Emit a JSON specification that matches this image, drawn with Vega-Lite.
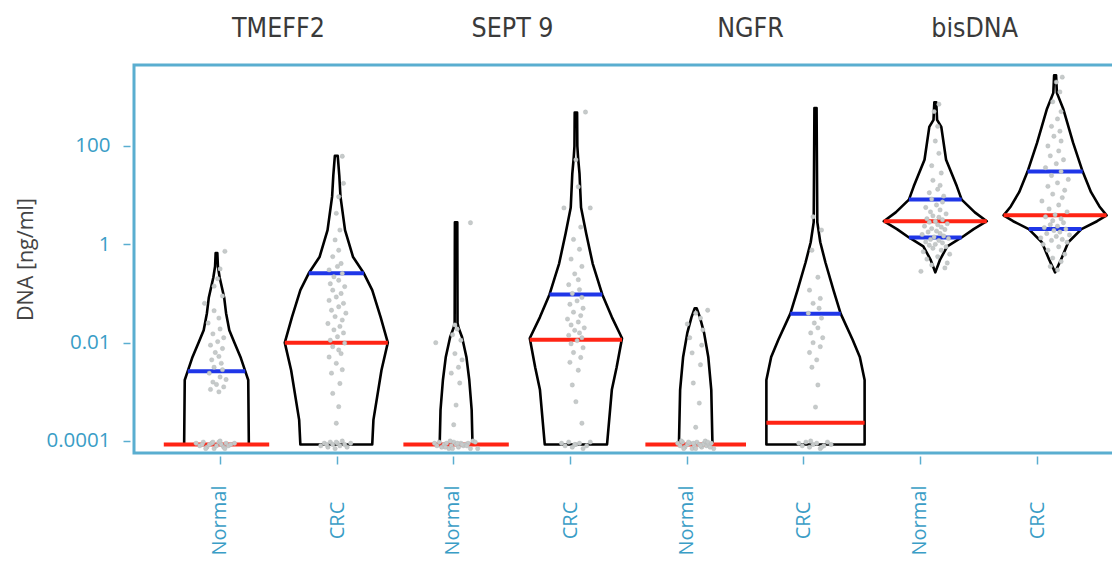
{
  "$schema": "https://vega.github.io/schema/vega-lite/v6.json",
  "width": 981,
  "height": 388,
  "autosize": "none",
  "padding": {"left": 134, "top": 65, "right": -3, "bottom": 109},
  "background": "white",
  "config": {
    "view": {"stroke": "#5aaed0", "strokeWidth": 3},
    "axis": {"grid": false}
  },
  "datasets": {
    "violin": [
      {"g":1,"v":8.5e-5,"w":0.27},{"g":1,"v":0.00174,"w":0.265},{"g":1,"v":0.00263,"w":0.24},{"g":1,"v":0.00513,"w":0.2},{"g":1,"v":0.01,"w":0.15},{"g":1,"v":0.0178,"w":0.107},{"g":1,"v":0.0398,"w":0.08},{"g":1,"v":0.0832,"w":0.064},{"g":1,"v":0.214,"w":0.026},{"g":1,"v":0.355,"w":0.012},{"g":1,"v":0.661,"w":0.007},
      {"g":2,"v":8.5e-5,"w":0.3},{"g":2,"v":0.000269,"w":0.31},{"g":2,"v":0.00275,"w":0.377},{"g":2,"v":0.01,"w":0.43},{"g":2,"v":0.0331,"w":0.37},{"g":2,"v":0.117,"w":0.3},{"g":2,"v":0.257,"w":0.23},{"g":2,"v":0.55,"w":0.14},{"g":2,"v":1.95,"w":0.073},{"g":2,"v":9.33,"w":0.035},{"g":2,"v":25.1,"w":0.025},{"g":2,"v":63,"w":0.012},
      {"g":3,"v":8.5e-5,"w":0.137},{"g":3,"v":0.000427,"w":0.13},{"g":3,"v":0.00174,"w":0.11},{"g":3,"v":0.00513,"w":0.086},{"g":3,"v":0.0129,"w":0.05},{"g":3,"v":0.0204,"w":0.02},{"g":3,"v":0.0251,"w":0.012},{"g":3,"v":2.82,"w":0.01},
      {"g":4,"v":8.5e-5,"w":0.26},{"g":4,"v":0.0011,"w":0.3},{"g":4,"v":0.00316,"w":0.34},{"g":4,"v":0.0123,"w":0.385},{"g":4,"v":0.0331,"w":0.3},{"g":4,"v":0.0955,"w":0.22},{"g":4,"v":0.407,"w":0.14},{"g":4,"v":1.66,"w":0.086},{"g":4,"v":5.62,"w":0.043},{"g":4,"v":27.5,"w":0.03},{"g":4,"v":58.9,"w":0.018},{"g":4,"v":100,"w":0.012},{"g":4,"v":479,"w":0.01},
      {"g":5,"v":8.5e-5,"w":0.14},{"g":5,"v":0.0011,"w":0.13},{"g":5,"v":0.00513,"w":0.105},{"g":5,"v":0.0158,"w":0.07},{"g":5,"v":0.0331,"w":0.035},{"g":5,"v":0.0501,"w":0.008},
      {"g":6,"v":8.5e-5,"w":0.41},{"g":6,"v":0.00174,"w":0.41},{"g":6,"v":0.00513,"w":0.37},{"g":6,"v":0.0115,"w":0.31},{"g":6,"v":0.0389,"w":0.21},{"g":6,"v":0.117,"w":0.15},{"g":6,"v":0.427,"w":0.083},{"g":6,"v":1.1,"w":0.04},{"g":6,"v":2.82,"w":0.015},{"g":6,"v":589,"w":0.009},
      {"g":7,"v":0.269,"w":0.0},{"g":7,"v":0.49,"w":0.04},{"g":7,"v":0.912,"w":0.1},{"g":7,"v":1.38,"w":0.22},{"g":7,"v":2.04,"w":0.32},{"g":7,"v":2.95,"w":0.43},{"g":7,"v":4.47,"w":0.33},{"g":7,"v":8.13,"w":0.22},{"g":7,"v":15.1,"w":0.18},{"g":7,"v":52.5,"w":0.09},{"g":7,"v":245,"w":0.05},{"g":7,"v":339,"w":0.015},{"g":7,"v":776,"w":0.008},
      {"g":8,"v":0.269,"w":0.0},{"g":8,"v":0.49,"w":0.05},{"g":8,"v":1.1,"w":0.11},{"g":8,"v":2.04,"w":0.22},{"g":8,"v":2.95,"w":0.35},{"g":8,"v":3.89,"w":0.43},{"g":8,"v":5.89,"w":0.37},{"g":8,"v":11.5,"w":0.3},{"g":8,"v":30.2,"w":0.23},{"g":8,"v":117,"w":0.15},{"g":8,"v":550,"w":0.07},{"g":8,"v":1202,"w":0.015},{"g":8,"v":2754,"w":0.008}
    ],
    "lines": [
      {"g":1,"v":8.5e-5,"w":0.44,"k":"med"},{"g":1,"v":0.00263,"w":0.24,"k":"q"},
      {"g":2,"v":0.01,"w":0.43,"k":"med"},{"g":2,"v":0.257,"w":0.23,"k":"q"},
      {"g":3,"v":8.5e-5,"w":0.44,"k":"med"},
      {"g":4,"v":0.0115,"w":0.385,"k":"med"},{"g":4,"v":0.0955,"w":0.22,"k":"q"},
      {"g":5,"v":8.5e-5,"w":0.42,"k":"med"},
      {"g":6,"v":0.000234,"w":0.41,"k":"med"},{"g":6,"v":0.0389,"w":0.21,"k":"q"},
      {"g":7,"v":2.95,"w":0.43,"k":"med"},{"g":7,"v":8.13,"w":0.22,"k":"q"},{"g":7,"v":1.38,"w":0.22,"k":"q"},
      {"g":8,"v":3.89,"w":0.43,"k":"med"},{"g":8,"v":30.2,"w":0.23,"k":"q"},{"g":8,"v":2.04,"w":0.22,"k":"q"}
    ],
    "points": [
      {"g":1,"v":9e-5,"j":-0.17},{"g":1,"v":8e-5,"j":-0.14},{"g":1,"v":9.5e-5,"j":-0.11},{"g":1,"v":7.5e-5,"j":-0.08},{"g":1,"v":8.5e-5,"j":-0.06},{"g":1,"v":9e-5,"j":-0.04},{"g":1,"v":7e-5,"j":-0.02},{"g":1,"v":8e-5,"j":0},{"g":1,"v":9.5e-5,"j":0.02},{"g":1,"v":8.5e-5,"j":0.04},{"g":1,"v":7.5e-5,"j":0.06},{"g":1,"v":9e-5,"j":0.08},{"g":1,"v":8e-5,"j":0.1},{"g":1,"v":8.5e-5,"j":0.12},{"g":1,"v":9e-5,"j":0.15},{"g":1,"v":7e-5,"j":-0.09},{"g":1,"v":1e-4,"j":0.03},{"g":1,"v":9.5e-5,"j":-0.03},{"g":1,"v":7e-5,"j":0.07},{"g":1,"v":8.5e-5,"j":-0.12},
      {"g":1,"v":0.001,"j":0.02},{"g":1,"v":0.00112,"j":-0.05},{"g":1,"v":0.00126,"j":0.06},{"g":1,"v":0.00141,"j":0.0},{"g":1,"v":0.00158,"j":-0.03},{"g":1,"v":0.00178,"j":0.08},{"g":1,"v":0.002,"j":0.03},{"g":1,"v":0.0024,"j":-0.06},{"g":1,"v":0.00282,"j":0.05},{"g":1,"v":0.00316,"j":-0.02},{"g":1,"v":0.0038,"j":0.04},{"g":1,"v":0.00447,"j":-0.04},{"g":1,"v":0.00525,"j":0.02},{"g":1,"v":0.0063,"j":-0.01},{"g":1,"v":0.0076,"j":0.05},{"g":1,"v":0.0089,"j":-0.05},{"g":1,"v":0.0105,"j":0.01},{"g":1,"v":0.0126,"j":0.06},{"g":1,"v":0.0151,"j":-0.03},{"g":1,"v":0.019,"j":0.03},{"g":1,"v":0.0251,"j":-0.07},{"g":1,"v":0.0316,"j":0.02},{"g":1,"v":0.0447,"j":-0.02},{"g":1,"v":0.063,"j":-0.1},{"g":1,"v":0.089,"j":0.05},{"g":1,"v":0.141,"j":-0.02},{"g":1,"v":0.2,"j":0.01},{"g":1,"v":0.316,"j":0.03},{"g":1,"v":0.72,"j":0.07},
      {"g":2,"v":8e-5,"j":-0.13},{"g":2,"v":9e-5,"j":-0.1},{"g":2,"v":7.5e-5,"j":-0.07},{"g":2,"v":9.5e-5,"j":-0.05},{"g":2,"v":8.5e-5,"j":-0.03},{"g":2,"v":7e-5,"j":-0.01},{"g":2,"v":9e-5,"j":0.01},{"g":2,"v":8e-5,"j":0.03},{"g":2,"v":1e-4,"j":0.05},{"g":2,"v":8.5e-5,"j":0.07},{"g":2,"v":7.5e-5,"j":0.09},{"g":2,"v":9e-5,"j":0.12},{"g":2,"v":8.5e-5,"j":-0.08},{"g":2,"v":9.5e-5,"j":0.0},
      {"g":2,"v":0.00023,"j":0.0},{"g":2,"v":0.0005,"j":0.02},{"g":2,"v":0.00093,"j":-0.03},{"g":2,"v":0.00148,"j":0.03},{"g":2,"v":0.0024,"j":-0.04},{"g":2,"v":0.00282,"j":0.05},{"g":2,"v":0.0038,"j":0.0},{"g":2,"v":0.0051,"j":-0.06},{"g":2,"v":0.006,"j":0.04},{"g":2,"v":0.0071,"j":0.02},{"g":2,"v":0.0083,"j":-0.03},{"g":2,"v":0.0098,"j":0.07},{"g":2,"v":0.0112,"j":-0.05},{"g":2,"v":0.0132,"j":0.01},{"g":2,"v":0.0158,"j":0.06},{"g":2,"v":0.0182,"j":-0.02},{"g":2,"v":0.0214,"j":0.03},{"g":2,"v":0.0245,"j":-0.07},{"g":2,"v":0.0288,"j":0.05},{"g":2,"v":0.0339,"j":-0.01},{"g":2,"v":0.0398,"j":0.08},{"g":2,"v":0.0457,"j":-0.04},{"g":2,"v":0.0537,"j":0.02},{"g":2,"v":0.063,"j":0.06},{"g":2,"v":0.0724,"j":-0.06},{"g":2,"v":0.085,"j":0.0},{"g":2,"v":0.1,"j":0.04},{"g":2,"v":0.117,"j":-0.03},{"g":2,"v":0.138,"j":0.07},{"g":2,"v":0.158,"j":-0.05},{"g":2,"v":0.186,"j":0.02},{"g":2,"v":0.219,"j":-0.02},{"g":2,"v":0.257,"j":0.05},{"g":2,"v":0.302,"j":-0.06},{"g":2,"v":0.355,"j":0.01},{"g":2,"v":0.407,"j":0.04},{"g":2,"v":0.562,"j":-0.03},{"g":2,"v":0.759,"j":0.02},{"g":2,"v":1.23,"j":-0.01},{"g":2,"v":1.95,"j":0.03},{"g":2,"v":4.27,"j":0.0},{"g":2,"v":9.3,"j":0.02},{"g":2,"v":17.4,"j":0.06},{"g":2,"v":61.7,"j":0.05},
      {"g":3,"v":9e-5,"j":-0.18},{"g":3,"v":8e-5,"j":-0.16},{"g":3,"v":9.5e-5,"j":-0.14},{"g":3,"v":7.5e-5,"j":-0.12},{"g":3,"v":8.5e-5,"j":-0.1},{"g":3,"v":9e-5,"j":-0.08},{"g":3,"v":7e-5,"j":-0.06},{"g":3,"v":8e-5,"j":-0.04},{"g":3,"v":9.5e-5,"j":-0.02},{"g":3,"v":8.5e-5,"j":0.0},{"g":3,"v":7.5e-5,"j":0.02},{"g":3,"v":9e-5,"j":0.04},{"g":3,"v":8e-5,"j":0.06},{"g":3,"v":8.5e-5,"j":0.08},{"g":3,"v":9e-5,"j":0.1},{"g":3,"v":7e-5,"j":0.12},{"g":3,"v":1e-4,"j":0.14},{"g":3,"v":9.5e-5,"j":0.16},{"g":3,"v":7e-5,"j":-0.03},{"g":3,"v":8.5e-5,"j":0.05},{"g":3,"v":7.5e-5,"j":-0.09},{"g":3,"v":9e-5,"j":0.01},{"g":3,"v":8e-5,"j":0.09},{"g":3,"v":1e-4,"j":-0.05},{"g":3,"v":7e-5,"j":0.18},
      {"g":3,"v":0.000214,"j":-0.02},{"g":3,"v":0.000537,"j":0.0},{"g":3,"v":0.00151,"j":0.03},{"g":3,"v":0.0024,"j":-0.04},{"g":3,"v":0.00316,"j":0.02},{"g":3,"v":0.00447,"j":0.05},{"g":3,"v":0.006,"j":-0.01},{"g":3,"v":0.01,"j":-0.17},{"g":3,"v":0.0112,"j":0.04},{"g":3,"v":0.0145,"j":-0.03},{"g":3,"v":0.019,"j":0.01},{"g":3,"v":0.0229,"j":-0.01},{"g":3,"v":2.75,"j":0.12},
      {"g":4,"v":9e-5,"j":-0.12},{"g":4,"v":8e-5,"j":-0.09},{"g":4,"v":9.5e-5,"j":-0.06},{"g":4,"v":7.5e-5,"j":-0.03},{"g":4,"v":8.5e-5,"j":0.0},{"g":4,"v":9e-5,"j":0.03},{"g":4,"v":7e-5,"j":0.06},{"g":4,"v":8e-5,"j":0.09},{"g":4,"v":9.5e-5,"j":0.12},{"g":4,"v":8.5e-5,"j":-0.01},
      {"g":4,"v":0.00023,"j":0.05},{"g":4,"v":0.00063,"j":0.0},{"g":4,"v":0.00138,"j":-0.03},{"g":4,"v":0.00275,"j":0.02},{"g":4,"v":0.00398,"j":-0.05},{"g":4,"v":0.005,"j":0.04},{"g":4,"v":0.0063,"j":-0.02},{"g":4,"v":0.0079,"j":0.06},{"g":4,"v":0.0095,"j":-0.04},{"g":4,"v":0.011,"j":0.01},{"g":4,"v":0.0126,"j":0.05},{"g":4,"v":0.0141,"j":-0.06},{"g":4,"v":0.0158,"j":0.03},{"g":4,"v":0.0178,"j":-0.01},{"g":4,"v":0.02,"j":0.07},{"g":4,"v":0.0229,"j":-0.04},{"g":4,"v":0.0263,"j":0.02},{"g":4,"v":0.0302,"j":-0.07},{"g":4,"v":0.0355,"j":0.04},{"g":4,"v":0.0417,"j":-0.02},{"g":4,"v":0.0501,"j":0.06},{"g":4,"v":0.0603,"j":-0.05},{"g":4,"v":0.0708,"j":0.01},{"g":4,"v":0.0832,"j":0.05},{"g":4,"v":0.1,"j":-0.03},{"g":4,"v":0.12,"j":0.03},{"g":4,"v":0.151,"j":-0.06},{"g":4,"v":0.191,"j":0.02},{"g":4,"v":0.251,"j":-0.01},{"g":4,"v":0.355,"j":0.05},{"g":4,"v":0.501,"j":-0.04},{"g":4,"v":0.794,"j":0.03},{"g":4,"v":1.26,"j":-0.02},{"g":4,"v":2.24,"j":0.04},{"g":4,"v":5.5,"j":-0.1},{"g":4,"v":5.5,"j":0.12},{"g":4,"v":14.8,"j":0.02},{"g":4,"v":52.5,"j":0.0},{"g":4,"v":490,"j":0.08},
      {"g":5,"v":9e-5,"j":-0.15},{"g":5,"v":8e-5,"j":-0.13},{"g":5,"v":9.5e-5,"j":-0.11},{"g":5,"v":7.5e-5,"j":-0.09},{"g":5,"v":8.5e-5,"j":-0.07},{"g":5,"v":9e-5,"j":-0.05},{"g":5,"v":7e-5,"j":-0.03},{"g":5,"v":8e-5,"j":-0.01},{"g":5,"v":9.5e-5,"j":0.01},{"g":5,"v":8.5e-5,"j":0.03},{"g":5,"v":7.5e-5,"j":0.05},{"g":5,"v":9e-5,"j":0.07},{"g":5,"v":8e-5,"j":0.09},{"g":5,"v":8.5e-5,"j":0.11},{"g":5,"v":9e-5,"j":0.13},{"g":5,"v":7e-5,"j":0.15},{"g":5,"v":1e-4,"j":-0.12},{"g":5,"v":9.5e-5,"j":-0.06},{"g":5,"v":7e-5,"j":0.0},{"g":5,"v":8.5e-5,"j":0.06},{"g":5,"v":7.5e-5,"j":0.12},{"g":5,"v":9e-5,"j":-0.02},{"g":5,"v":8e-5,"j":0.04},{"g":5,"v":1e-4,"j":0.08},{"g":5,"v":7e-5,"j":-0.1},{"g":5,"v":9.5e-5,"j":0.1},
      {"g":5,"v":0.00019,"j":0.0},{"g":5,"v":0.00059,"j":0.03},{"g":5,"v":0.00151,"j":-0.02},{"g":5,"v":0.00355,"j":0.04},{"g":5,"v":0.0062,"j":-0.03},{"g":5,"v":0.0089,"j":0.05},{"g":5,"v":0.0126,"j":-0.05},{"g":5,"v":0.0182,"j":0.06},{"g":5,"v":0.024,"j":-0.07},{"g":5,"v":0.0316,"j":0.04},{"g":5,"v":0.0398,"j":0.0},{"g":5,"v":0.0457,"j":0.1},
      {"g":6,"v":9e-5,"j":-0.14},{"g":6,"v":8e-5,"j":-0.11},{"g":6,"v":9.5e-5,"j":-0.08},{"g":6,"v":7.5e-5,"j":-0.05},{"g":6,"v":8.5e-5,"j":-0.02},{"g":6,"v":9e-5,"j":0.01},{"g":6,"v":7e-5,"j":0.04},{"g":6,"v":8e-5,"j":0.07},{"g":6,"v":9.5e-5,"j":0.1},{"g":6,"v":8.5e-5,"j":0.13},{"g":6,"v":1e-4,"j":-0.04},{"g":6,"v":7.5e-5,"j":0.05},
      {"g":6,"v":0.00049,"j":0.0},{"g":6,"v":0.00138,"j":0.02},{"g":6,"v":0.00316,"j":-0.03},{"g":6,"v":0.00447,"j":0.01},{"g":6,"v":0.0063,"j":-0.05},{"g":6,"v":0.0083,"j":0.04},{"g":6,"v":0.01,"j":-0.02},{"g":6,"v":0.0126,"j":0.06},{"g":6,"v":0.0158,"j":-0.04},{"g":6,"v":0.02,"j":0.02},{"g":6,"v":0.0251,"j":-0.01},{"g":6,"v":0.0316,"j":0.05},{"g":6,"v":0.0398,"j":-0.06},{"g":6,"v":0.0501,"j":0.03},{"g":6,"v":0.063,"j":-0.02},{"g":6,"v":0.0794,"j":0.04},{"g":6,"v":0.117,"j":-0.05},{"g":6,"v":0.214,"j":0.02},{"g":6,"v":0.759,"j":-0.03},{"g":6,"v":1.95,"j":0.05},{"g":6,"v":3.63,"j":-0.02},
      {"g":7,"v":0.282,"j":-0.12},{"g":7,"v":0.331,"j":0.08},{"g":7,"v":0.38,"j":-0.03},{"g":7,"v":0.417,"j":0.1},{"g":7,"v":0.501,"j":-0.07},{"g":7,"v":0.562,"j":0.02},{"g":7,"v":0.631,"j":0.12},{"g":7,"v":0.708,"j":-0.1},{"g":7,"v":0.759,"j":0.05},{"g":7,"v":0.832,"j":-0.02},{"g":7,"v":0.891,"j":0.09},{"g":7,"v":0.955,"j":-0.05},{"g":7,"v":1.0,"j":0.0},{"g":7,"v":1.07,"j":0.06},{"g":7,"v":1.12,"j":-0.08},{"g":7,"v":1.2,"j":0.03},{"g":7,"v":1.26,"j":-0.04},{"g":7,"v":1.32,"j":0.11},{"g":7,"v":1.41,"j":-0.01},{"g":7,"v":1.48,"j":0.07},{"g":7,"v":1.58,"j":-0.11},{"g":7,"v":1.66,"j":0.04},{"g":7,"v":1.78,"j":-0.06},{"g":7,"v":1.86,"j":0.01},{"g":7,"v":2.0,"j":0.08},{"g":7,"v":2.09,"j":-0.03},{"g":7,"v":2.24,"j":0.05},{"g":7,"v":2.34,"j":-0.09},{"g":7,"v":2.51,"j":0.02},{"g":7,"v":2.63,"j":0.1},{"g":7,"v":2.82,"j":-0.05},{"g":7,"v":2.95,"j":0.0},{"g":7,"v":3.16,"j":0.06},{"g":7,"v":3.31,"j":-0.07},{"g":7,"v":3.55,"j":0.03},{"g":7,"v":3.8,"j":-0.02},{"g":7,"v":4.17,"j":0.09},{"g":7,"v":4.57,"j":-0.04},{"g":7,"v":5.01,"j":0.04},{"g":7,"v":5.62,"j":-0.08},{"g":7,"v":6.31,"j":0.01},{"g":7,"v":7.24,"j":0.06},{"g":7,"v":8.32,"j":-0.03},{"g":7,"v":9.55,"j":0.07},{"g":7,"v":11.2,"j":-0.05},{"g":7,"v":13.2,"j":0.02},{"g":7,"v":15.8,"j":0.04},{"g":7,"v":20,"j":-0.02},{"g":7,"v":28.2,"j":0.05},{"g":7,"v":39.8,"j":-0.03},{"g":7,"v":70.8,"j":0.03},{"g":7,"v":126,"j":0.0},{"g":7,"v":251,"j":0.02},{"g":7,"v":501,"j":-0.01},{"g":7,"v":708,"j":0.03},
      {"g":8,"v":0.302,"j":0.02},{"g":8,"v":0.355,"j":-0.04},{"g":8,"v":0.447,"j":0.05},{"g":8,"v":0.525,"j":-0.02},{"g":8,"v":0.631,"j":0.08},{"g":8,"v":0.759,"j":-0.06},{"g":8,"v":0.891,"j":0.03},{"g":8,"v":1.0,"j":-0.1},{"g":8,"v":1.1,"j":0.1},{"g":8,"v":1.2,"j":-0.03},{"g":8,"v":1.26,"j":0.06},{"g":8,"v":1.35,"j":-0.12},{"g":8,"v":1.45,"j":0.01},{"g":8,"v":1.55,"j":0.12},{"g":8,"v":1.66,"j":-0.07},{"g":8,"v":1.78,"j":0.04},{"g":8,"v":1.91,"j":-0.01},{"g":8,"v":2.04,"j":0.09},{"g":8,"v":2.19,"j":-0.09},{"g":8,"v":2.34,"j":0.02},{"g":8,"v":2.51,"j":-0.04},{"g":8,"v":2.75,"j":0.07},{"g":8,"v":3.02,"j":-0.02},{"g":8,"v":3.31,"j":0.05},{"g":8,"v":3.63,"j":-0.08},{"g":8,"v":3.98,"j":0.0},{"g":8,"v":4.57,"j":0.1},{"g":8,"v":5.25,"j":-0.05},{"g":8,"v":6.31,"j":0.03},{"g":8,"v":7.59,"j":-0.11},{"g":8,"v":8.91,"j":0.06},{"g":8,"v":10.5,"j":-0.02},{"g":8,"v":12.6,"j":0.08},{"g":8,"v":15.1,"j":-0.06},{"g":8,"v":17.8,"j":0.02},{"g":8,"v":20.9,"j":0.11},{"g":8,"v":25.1,"j":-0.03},{"g":8,"v":30.2,"j":0.05},{"g":8,"v":36.3,"j":-0.08},{"g":8,"v":43.7,"j":0.01},{"g":8,"v":52.5,"j":0.07},{"g":8,"v":63.1,"j":-0.04},{"g":8,"v":79.4,"j":0.03},{"g":8,"v":100,"j":-0.06},{"g":8,"v":126,"j":0.05},{"g":8,"v":158,"j":-0.01},{"g":8,"v":200,"j":0.04},{"g":8,"v":251,"j":-0.03},{"g":8,"v":355,"j":0.02},{"g":8,"v":501,"j":0.05},{"g":8,"v":794,"j":-0.02},{"g":8,"v":1259,"j":0.04},{"g":8,"v":1995,"j":0.01},{"g":8,"v":2512,"j":0.06}
    ]
  },
  "encoding": {
    "y": {"field": "v", "type": "quantitative",
      "scale": {"type": "log", "domain": [5.7e-5, 4436], "nice": false, "zero": false},
      "axis": {"values": [0.0001, 0.01, 1, 100], "labelExpr": "datum.value < 0.001 ? '0.0001' : datum.value < 0.1 ? '0.01' : datum.value < 10 ? '1' : '100'",
        "title": "DNA [ng/ml]", "titleFont": "Open Sans", "titleFontSize": 21.5, "titleFontWeight": "normal", "titleColor": "#444444", "titlePadding": 9,
        "labelFont": "Open Sans", "labelFontSize": 20.5, "labelColor": "#3a9dc6", "labelPadding": 13,
        "tickColor": "#5aaed0", "tickSize": 7, "tickWidth": 1.5, "offset": 4, "domain": false, "grid": false}}
  },
  "layer": [
    {
      "data": {"name": "violin"},
      "transform": [
        {"calculate": "datum.g - datum.w", "as": "lo"},
        {"calculate": "datum.g + datum.w", "as": "hi"}
      ],
      "mark": {"type": "area", "orient": "horizontal", "fill": "white", "fillOpacity": 1, "opacity": 1, "stroke": "black", "strokeWidth": 2.6, "strokeJoin": "round", "interpolate": "linear"},
      "encoding": {
        "x": {"field": "lo", "type": "quantitative", "stack": null,
          "scale": {"domain": [0.3114, 8.5], "nice": false, "zero": false},
          "axis": {"orient": "bottom", "values": [1.029, 2.006, 2.974, 3.951, 4.927, 5.896, 6.872, 7.849],
            "labelExpr": "round(datum.value) % 2 == 1 ? 'Normal' : 'CRC'",
            "labelAngle": -90, "labelAlign": "center", "labelBaseline": "middle", "labelPadding": 56,
            "labelFont": "Open Sans", "labelFontSize": 20, "labelColor": "#3a9dc6", "labelOverlap": false, "labelFlush": false,
            "tickColor": "#5aaed0", "tickSize": 8, "tickWidth": 1.5, "offset": 3, "domain": false, "grid": false, "title": null}},
        "x2": {"field": "hi"},
        "detail": {"field": "g", "type": "nominal"}
      }
    },
    {
      "data": {"name": "lines"},
      "transform": [
        {"calculate": "datum.g - datum.w", "as": "lo"},
        {"calculate": "datum.g + datum.w", "as": "hi"}
      ],
      "mark": {"type": "rule", "strokeWidth": 4},
      "encoding": {
        "x": {"field": "lo", "type": "quantitative", "scale": {"domain": [0.3114, 8.5], "nice": false, "zero": false}, "axis": null},
        "x2": {"field": "hi"},
        "color": {"field": "k", "type": "nominal", "scale": {"domain": ["med", "q"], "range": ["#ff2414", "#1f36e8"]}, "legend": null}
      }
    },
    {
      "data": {"name": "points"},
      "transform": [
        {"calculate": "datum.g + datum.j", "as": "xp"}
      ],
      "mark": {"type": "circle", "size": 19, "fill": "#c6caca", "stroke": "#b0b5b5", "strokeWidth": 0.4, "opacity": 1},
      "encoding": {
        "x": {"field": "xp", "type": "quantitative", "scale": {"domain": [0.3114, 8.5], "nice": false, "zero": false},
          "axis": {"orient": "top", "values": [1.513, 3.467, 5.453, 7.324],
            "labelExpr": "datum.value < 2.5 ? 'TMEFF2' : datum.value < 4.5 ? 'SEPT 9' : datum.value < 6.5 ? 'NGFR' : 'bisDNA'",
            "labelAngle": 0, "labelAlign": "center", "labelBaseline": "alphabetic", "labelPadding": 29,
            "labelFont": "DejaVu Sans Condensed, Liberation Sans Narrow, sans-serif", "labelFontSize": 26.5, "labelColor": "#3a3a3a",
            "labelOverlap": false, "labelFlush": false,
            "ticks": false, "tickSize": 0, "domain": false, "grid": false, "title": null}}
      }
    }
  ],
  "resolve": {"axis": {"x": "independent"}}
}
